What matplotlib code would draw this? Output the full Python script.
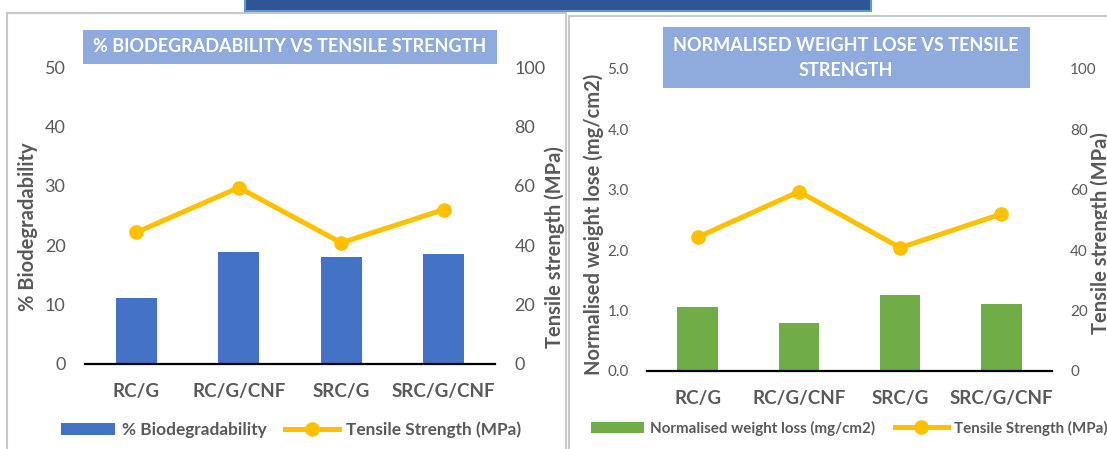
import numpy as np
import matplotlib.pyplot as plt
from matplotlib.patches import Rectangle

categories = ['RC/G', 'RC/G/CNF', 'SRC/G', 'SRC/G/CNF']
biodeg = [11.1, 18.8, 18.0, 18.6]
tensile = [44.3, 59.4, 40.8, 52.0]
weight_loss = [1.06, 0.79, 1.26, 1.11]

left_ticks = [0, 10, 20, 30, 40, 50]
wl_ticks = [0.0, 1.0, 2.0, 3.0, 4.0, 5.0]
ts_ticks = [0, 20, 40, 60, 80, 100]

plt.rcParams['font.family'] = ['Lato', 'DejaVu Sans']
gray = '#595959'
blue = '#4472C4'
green = '#70AD47'
yellow = '#FFC000'
W, H = 1107, 449

fig = plt.figure(figsize=(W / 100, H / 100), dpi=100)


def box(x0, y0, x1, y1):
    # pixel box (top-left origin) -> figure fraction rect
    return [x0 / W, (H - y1) / H, (x1 - x0) / W, (y1 - y0) / H]


def frect(x0, y0, x1, y1, z=-5, **kw):
    r = box(x0, y0, x1, y1)
    fig.patches.append(Rectangle((r[0], r[1]), r[2], r[3], transform=fig.transFigure,
                                 zorder=z, **kw))


# panel frames and dark header strip
frect(7, 13, 566, 460, facecolor='none', edgecolor='#C8C8C8', lw=1.5)
frect(569, 16, 1115, 460, facecolor='none', edgecolor='#C8C8C8', lw=1.5)
frect(245, -5, 871, 11, facecolor='#2F5597', edgecolor='#5B9BD5', lw=1.5)


def panel(rect, vals, color, yticks, yfmt, tfs, pad):
    ax = fig.add_axes(rect)
    ax.patch.set_visible(False)
    x = np.arange(len(categories))
    ax.bar(x, vals, width=0.4, color=color, zorder=2)
    ax.set_xlim(-0.5, len(categories) - 0.5)
    ax.set_ylim(yticks[0], yticks[-1])
    ax.set_yticks(yticks)
    ax.set_yticklabels([yfmt.format(v) for v in yticks])
    ax.set_xticks(x)
    ax.set_xticklabels(categories, fontweight='bold')
    for s in ['top', 'left', 'right']:
        ax.spines[s].set_visible(False)
    ax.spines['bottom'].set_linewidth(1.6)
    ax.spines['bottom'].set_color('black')
    ax.spines['bottom'].set_zorder(3)
    ax.tick_params(axis='y', length=0, labelsize=tfs, labelcolor=gray, pad=pad)
    ax.tick_params(axis='x', length=0, labelsize=13.5, labelcolor=gray, pad=14)
    ax2 = ax.twinx()
    ax2.plot(x, tensile, color=yellow, lw=3.6, marker='o', ms=9.5, zorder=4)
    ax2.set_ylim(0, 100)
    ax2.set_yticks(ts_ticks)
    for s in ['top', 'left', 'right', 'bottom']:
        ax2.spines[s].set_visible(False)
    ax2.tick_params(axis='y', length=0, labelsize=tfs, labelcolor=gray, pad=pad)
    return ax, ax2


axA, axA2 = panel(box(85, 67, 495, 364), biodeg, blue, left_ticks, '{:g}', 13, 14)
axB, axB2 = panel(box(647, 69, 1052, 371), weight_loss, green, wl_ticks, '{:.1f}', 11, 13)

# titles
frect(83, 30, 497, 64, z=1, facecolor='#8FAADC', edgecolor='none')
fig.text(290 / W, 1 - 47 / H, '% BIODEGRADABILITY VS TENSILE STRENGTH', color='white',
         fontsize=13, fontweight='bold', ha='center', va='center')
frect(663, 27, 1030, 88, z=1, facecolor='#8FAADC', edgecolor='none')
fig.text(846 / W, 1 - 58 / H, 'NORMALISED WEIGHT LOSE VS TENSILE\nSTRENGTH', color='white',
         fontsize=13, fontweight='bold', ha='center', va='center', linespacing=1.55)

# axis titles
yl = dict(rotation=90, color=gray, fontsize=14.5, fontweight='bold', ha='center', va='center')
fig.text(28 / W, 1 - 227 / H, '% Biodegradability', **yl)
fig.text(555 / W, 1 - 247 / H, 'Tensile strength (MPa)', **yl)
fig.text(594 / W, 1 - 224 / H, 'Normalised weight lose (mg/cm2)', **yl)
fig.text(1101 / W, 1 - 233 / H, 'Tensile strength (MPa)', **yl)

# legends
hA = [axA.patches[0], axA2.lines[0]]
legA = fig.legend(hA, ['% Biodegradability', 'Tensile Strength (MPa)'], loc='center',
                  bbox_to_anchor=(291 / W, 1 - 430 / H), ncol=2, frameon=False,
                  handlelength=3.1, handletextpad=0.4, columnspacing=1.1,
                  numpoints=1, prop={'weight': 'bold', 'size': 12.4})
hB = [axB.patches[0], axB2.lines[0]]
legB = fig.legend(hB, ['Normalised weight loss (mg/cm2)', 'Tensile Strength (MPa)'], loc='center',
                  bbox_to_anchor=(849 / W, 1 - 428 / H), ncol=2, frameon=False,
                  handlelength=3.5, handletextpad=0.4, columnspacing=1.3,
                  numpoints=1, prop={'weight': 'bold', 'size': 10.9})
for leg in (legA, legB):
    for t in leg.get_texts():
        t.set_color(gray)

fig.savefig('out.png', dpi=100)
